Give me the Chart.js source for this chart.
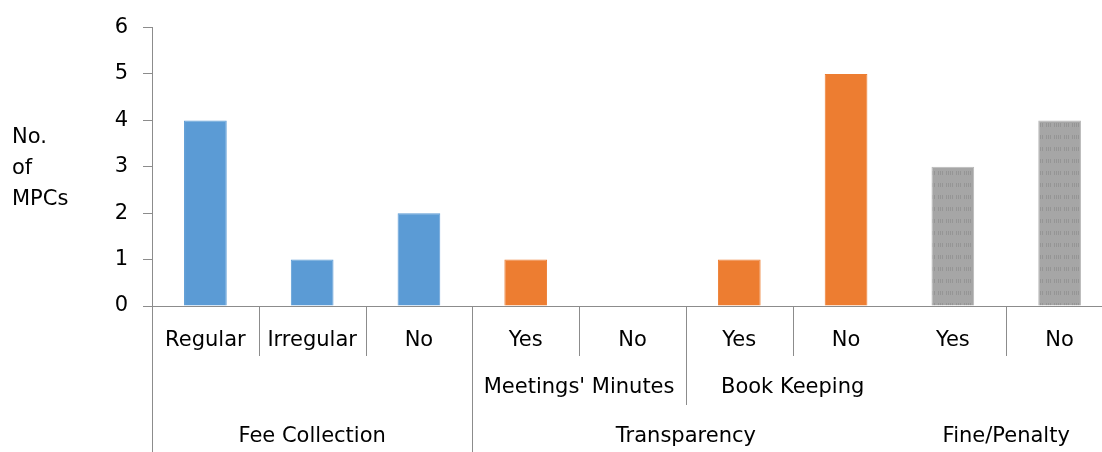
<!DOCTYPE html>
<html>
<head>
<meta charset="utf-8">
<script src="https://cdn.jsdelivr.net/npm/chart.js@4.4.1/dist/chart.umd.min.js"></script>
<style>
  html, body { margin: 0; padding: 0; background: #fff; overflow: hidden; width: 1102px; height: 452px; }
  canvas { display: block; }
</style>
</head>
<body>
<canvas id="chart" width="1114" height="452" style="width:1114px;height:452px"></canvas>
<script>
// Number of MPCs per practice answer
const subCategories = ['Regular', 'Irregular', 'No', 'Yes', 'No', 'Yes', 'No', 'Yes', 'No'];
const mpcCounts = [4, 1, 2, 1, 0, 1, 5, 3, 4];

// Outer grouping (bottom row of the axis)
const groupNames = ['Fee Collection', 'Transparency', 'Fine/Penalty'];
const groupIndex = [0, 0, 0, 1, 1, 1, 1, 2, 2];

// Middle grouping (blank where a group has no sub-group)
const subGroupNames = ['', "Meetings' Minutes", 'Book Keeping', ''];
const subGroupIndex = [0, 0, 0, 1, 1, 2, 2, 3, 3];

const yTicks = [0, 1, 2, 3, 4, 5, 6];
const yTitleLines = ['No.', 'of', 'MPCs'];

const FONT = 'DejaVu Sans';
const TEXT = '#000000';
const AXIS = '#8c8c8c';

// Dotted grey fill used for the Fine/Penalty bars
function dottedGrey() {
  const c = document.createElement('canvas');
  c.width = 18; c.height = 12;
  const g = c.getContext('2d');
  g.fillStyle = '#a6a6a6';
  g.fillRect(0, 0, 18, 12);
  g.fillStyle = '#959595';
  [2, 4, 6, 10, 12, 14, 16].forEach(x => g.fillRect(x, 3, 1, 4));
  return g.createPattern(c, 'repeat');
}

const groupFills = ['#5b9bd5', '#ed7d31', dottedGrey()];
const groupBorders = ['#5b9bd5', '#ed7d31', '#b8b8b8'];

// Multi-level category labels and separators under the x axis
const multiLevelAxis = {
  id: 'multiLevelAxis',
  afterDraw(chart) {
    const ctx = chart.ctx;
    const xs = chart.scales.x;
    const area = chart.chartArea;
    const n = subCategories.length;
    const centre = i => xs.getPixelForValue(i);
    const edge = k => (k === 0 ? xs.left : k === n ? xs.right : (centre(k - 1) + centre(k)) / 2);

    const base = area.bottom;
    const row1 = base + 35, row1End = base + 50;
    const row2 = base + 82, row2End = base + 99;
    const row3 = base + 131, fullEnd = chart.height;

    ctx.save();
    ctx.font = '21px "' + FONT + '"';
    ctx.fillStyle = TEXT;
    ctx.textAlign = 'center';
    ctx.textBaseline = 'middle';

    subCategories.forEach((t, i) => ctx.fillText(t, centre(i), row1));

    const spanCentre = (idx, g) => {
      const first = idx.indexOf(g), last = idx.lastIndexOf(g);
      return (edge(first) + edge(last + 1)) / 2;
    };
    subGroupNames.forEach((t, g) => { if (t) ctx.fillText(t, spanCentre(subGroupIndex, g), row2); });
    groupNames.forEach((t, g) => ctx.fillText(t, spanCentre(groupIndex, g), row3));

    ctx.strokeStyle = AXIS;
    ctx.lineWidth = 1;
    const vline = (x, y2) => {
      const px = Math.round(x) + 0.5;
      ctx.beginPath(); ctx.moveTo(px, base); ctx.lineTo(px, y2); ctx.stroke();
    };
    for (let k = 0; k < n; k++) {
      if (k === 0) { vline(edge(0), fullEnd); continue; }
      const newGroup = groupIndex[k] !== groupIndex[k - 1];
      const newSub = subGroupIndex[k] !== subGroupIndex[k - 1];
      // a group without sub-groups that follows one with sub-groups has no boundary line
      if (newGroup && !subGroupNames[subGroupIndex[k]] && subGroupNames[subGroupIndex[k - 1]]) continue;
      if (newGroup) vline(edge(k), fullEnd);
      else if (newSub) vline(edge(k), row2End);
      else vline(edge(k), row1End);
    }
    ctx.restore();
  }
};

// Stacked, horizontal y-axis title at the left
const yTitle = {
  id: 'yTitle',
  afterDraw(chart) {
    const ctx = chart.ctx;
    ctx.save();
    ctx.font = '21px "' + FONT + '"';
    ctx.fillStyle = TEXT;
    ctx.textAlign = 'left';
    ctx.textBaseline = 'alphabetic';
    yTitleLines.forEach((t, i) => ctx.fillText(t, 12, 143 + i * 31));
    ctx.restore();
  }
};

new Chart(document.getElementById('chart'), {
  type: 'bar',
  data: {
    labels: subCategories,
    datasets: [{
      data: mpcCounts,
      backgroundColor: groupIndex.map(g => groupFills[g]),
      borderColor: groupIndex.map(g => groupBorders[g]),
      borderWidth: 1,
      categoryPercentage: 1,
      barPercentage: 0.4
    }]
  },
  options: {
    responsive: false,
    animation: false,
    devicePixelRatio: 1,
    layout: { padding: { top: 25, right: 1, bottom: 0, left: 0 } },
    plugins: { legend: { display: false }, tooltip: { enabled: false } },
    scales: {
      x: {
        grid: { display: false },
        border: { display: true, color: AXIS, width: 1 },
        ticks: { display: false },
        afterFit(s) { s.height = 146; }
      },
      y: {
        min: 0,
        max: 6,
        afterBuildTicks(s) { s.ticks = yTicks.map(v => ({ value: v })); },
        ticks: { padding: 15, color: TEXT, font: { family: FONT, size: 21 } },
        grid: { display: true, drawOnChartArea: false, drawTicks: true, tickLength: 9, color: AXIS },
        border: { display: true, color: AXIS, width: 1 },
        afterFit(s) { s.width = 152; }
      }
    }
  },
  plugins: [multiLevelAxis, yTitle]
});
</script>
</body>
</html>
